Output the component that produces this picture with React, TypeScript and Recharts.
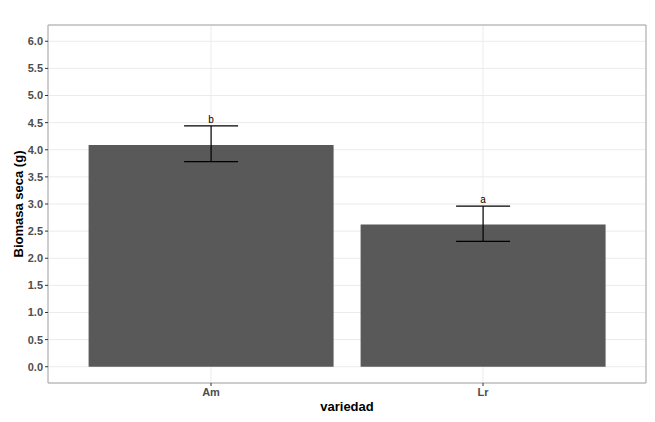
import React from 'react';
import {
  ComposedChart, Bar, XAxis, YAxis, CartesianGrid, ErrorBar, Scatter,
} from 'recharts';

const categories = ['Am', 'Lr'];
const means = [4.09, 2.62];
const lowers = [3.78, 2.31];
const uppers = [4.44, 2.96];
const letters = ['b', 'a'];
const yTicks = [0, 0.5, 1, 1.5, 2, 2.5, 3, 3.5, 4, 4.5, 5, 5.5, 6];
const minorTicks = [-0.25, 0.25, 0.75, 1.25, 1.75, 2.25, 2.75, 3.25, 3.75, 4.25, 4.75, 5.25, 5.75, 6.25];

const data = categories.map((c, i) => ({
  variedad: c,
  biomasa: means[i],
  err: [means[i] - lowers[i], uppers[i] - means[i]],
  upper: uppers[i],
  letter: letters[i],
}));

const FONT = '"Liberation Sans", Arial, Helvetica, sans-serif';
const BORDER = '#A6A6A6';

const LetterShape = (props: any) => {
  const { cx, cy, payload } = props;
  if (cx == null || cy == null) return null;
  return (
    <text x={cx} y={cy - 3} textAnchor="middle" fontSize={10} fontFamily={FONT} fill="#000">
      {payload.letter}
    </text>
  );
};

export default function App() {
  return (
    <div style={{ position: 'absolute', left: 0, top: 0, width: 655, height: 422, background: '#fff' }}>
      <ComposedChart
        width={655}
        height={422}
        data={data}
        margin={{ top: 24, right: 8, bottom: 0, left: 0 }}
        barCategoryGap="5%"
      >
        <CartesianGrid stroke="#F3F3F3" strokeWidth={0.7} vertical={false} yAxisId="minor" />
        <CartesianGrid stroke="#EBEBEB" strokeWidth={1} />
        <XAxis
          dataKey="variedad"
          padding={{ left: 27, right: 27 }}
          height={39}
          tickSize={3}
          tickMargin={2}
          tickLine={{ stroke: '#333333' }}
          axisLine={{ stroke: BORDER }}
          tick={{ fontSize: 11, fontWeight: 'bold', fill: '#4D4D4D', fontFamily: FONT }}
          label={{ value: 'variedad', position: 'insideBottom', offset: 11, style: { fontSize: 13, fontWeight: 'bold', fill: '#000', fontFamily: FONT } }}
        />
        <XAxis
          xAxisId="top"
          dataKey="variedad"
          orientation="top"
          height={1}
          tick={false}
          tickLine={false}
          axisLine={{ stroke: BORDER }}
        />
        <YAxis
          type="number"
          domain={[-0.3, 6.3]}
          ticks={yTicks}
          allowDataOverflow
          width={48}
          tickSize={3}
          tickMargin={2}
          tickLine={{ stroke: '#333333' }}
          axisLine={{ stroke: BORDER }}
          tickFormatter={(v: number) => v.toFixed(1)}
          tick={{ fontSize: 11, fontWeight: 'bold', fill: '#4D4D4D', fontFamily: FONT }}
          label={{ value: 'Biomasa seca (g)', angle: -90, position: 'center', dx: -6, style: { fontSize: 13, fontWeight: 'bold', fill: '#000', fontFamily: FONT, textAnchor: 'middle' } }}
        />
        <YAxis
          yAxisId="minor"
          orientation="right"
          type="number"
          domain={[-0.3, 6.3]}
          ticks={minorTicks}
          allowDataOverflow
          width={1}
          tick={false}
          tickLine={false}
          axisLine={{ stroke: BORDER }}
        />
        <Bar dataKey="biomasa" fill="#595959" isAnimationActive={false}>
          <ErrorBar dataKey="err" width={27} stroke="#000" strokeWidth={1.2} />
        </Bar>
        <Scatter dataKey="upper" shape={<LetterShape />} isAnimationActive={false} />
      </ComposedChart>
    </div>
  );
}
